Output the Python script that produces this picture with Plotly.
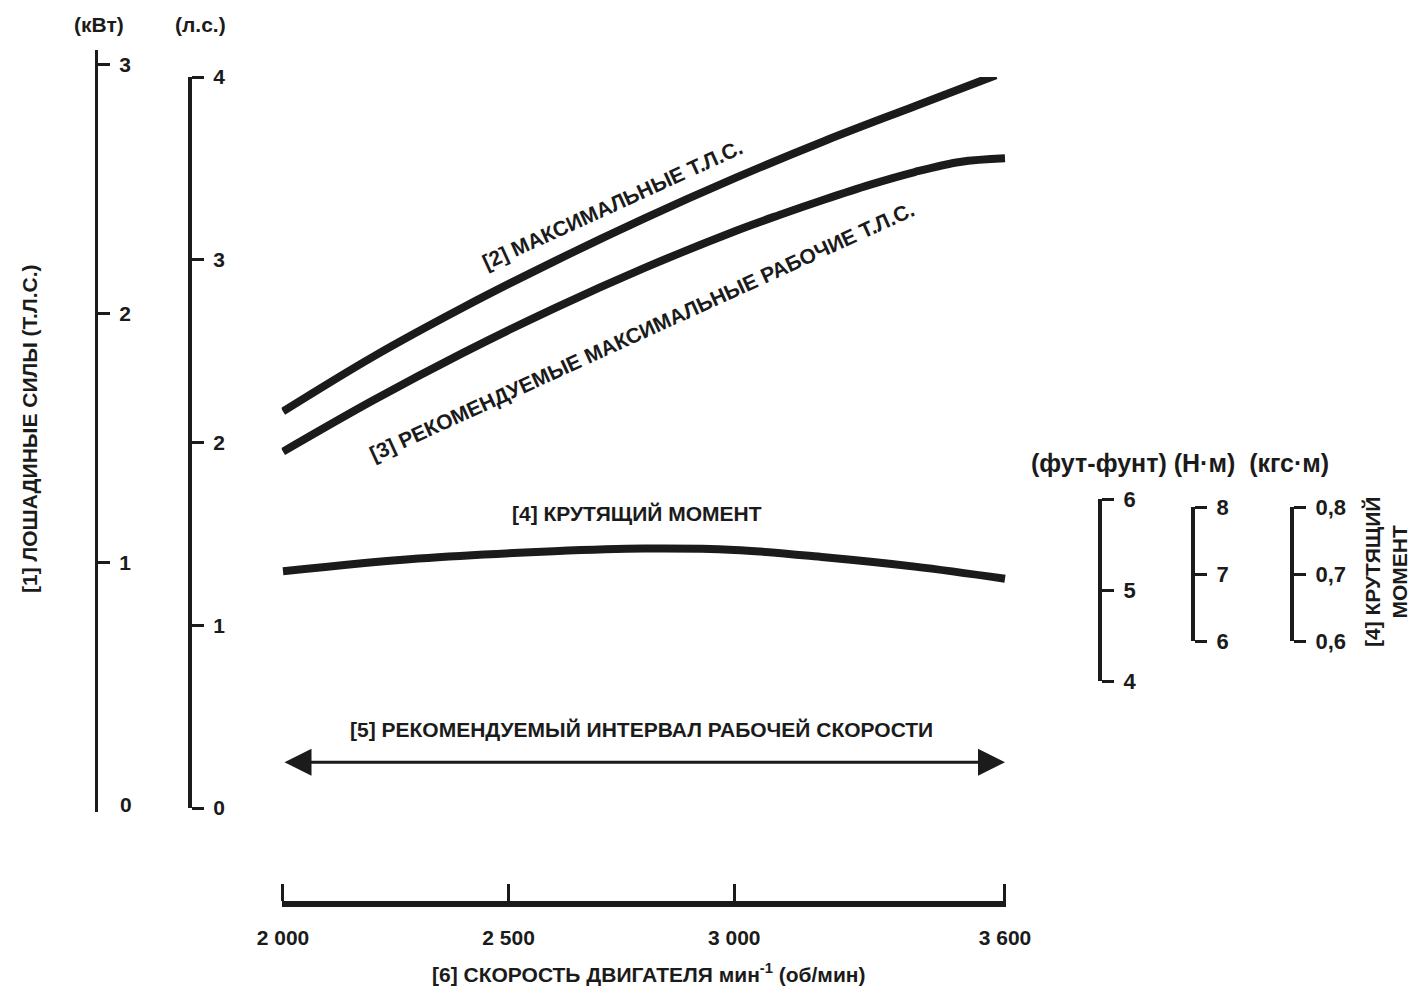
import plotly.graph_objects as go

# ---------------- data ----------------
rpm_max = [2000, 2200, 2400, 2600, 2800, 3000, 3200, 3400, 3580]
hp_max = [2.17, 2.47, 2.74, 2.99, 3.225, 3.445, 3.65, 3.84, 4.01]

rpm_rec = [2000, 2200, 2400, 2600, 2800, 3000, 3100, 3200, 3300, 3400, 3500, 3600]
hp_rec = [1.95, 2.231, 2.492, 2.733, 2.954, 3.155, 3.245, 3.33, 3.41, 3.48, 3.535, 3.555]

rpm_torque = [2000, 2300, 2600, 2800, 3000, 3200, 3400, 3600]
torque_nm = [7.04, 7.23, 7.34, 7.38, 7.36, 7.25, 7.11, 6.93]

arrow_rpm = [2000, 3600]
arrow_hp = 0.25

x_tickvals = [2000, 2500, 3000, 3600]
x_ticktext = ["2 000", "2 500", "3 000", "3 600"]
hp_ticks = [0, 1, 2, 3, 4]
kw_ticks = [1, 2, 3]
kw_zero_label = "0"
ftlb_ticks = [4, 5, 6]
nm_ticks = [6, 7, 8]
kgf_ticks = [0.6, 0.7, 0.8]
kgf_ticktext = ["0,6", "0,7", "0,8"]

# ---------------- layout helpers ----------------
W, H = 1410, 987
FONT = "Arial, 'Liberation Sans', Helvetica, sans-serif"
INK = "#1b1b1b"


def px(xp):
    return xp / W


def py(yp):
    return 1 - yp / H


def yax(top, bottom, rng, pos, tickvals, ticktext=None, lw=3, ticklen=12, fs=21):
    d = dict(
        domain=[py(bottom), py(top)], range=rng, anchor="free", position=px(pos),
        side="right", ticks="outside", ticklen=ticklen, tickwidth=3, tickcolor=INK,
        showline=True, linewidth=lw, linecolor=INK, showgrid=False, zeroline=False,
        tickvals=tickvals, tickfont=dict(family=FONT, size=fs, color=INK, weight="bold"),
        ticklabelstandoff=5, fixedrange=True, automargin=False,
    )
    if ticktext is not None:
        d["ticktext"] = ticktext
    return d


fig = go.Figure()
line_style = dict(color=INK, width=8, shape="spline", smoothing=1.0)
fig.add_trace(go.Scatter(x=rpm_max, y=hp_max, mode="lines", line=line_style,
                         xaxis="x", yaxis="y", hoverinfo="skip"))
fig.add_trace(go.Scatter(x=rpm_rec, y=hp_rec, mode="lines", line=line_style,
                         xaxis="x", yaxis="y", hoverinfo="skip"))
fig.add_trace(go.Scatter(x=rpm_torque, y=torque_nm, mode="lines", line=line_style,
                         xaxis="x", yaxis="y4", hoverinfo="skip"))
for ax in ["y2", "y3", "y5"]:
    fig.add_trace(go.Scatter(x=[], y=[], xaxis="x", yaxis=ax, hoverinfo="skip"))

# x range padded a hair so the end ticks at 2 000 and 3 600 are kept
x_pad = 3
x_px_per_rpm = (1005 - 283) / (3600 - 2000)

fig.update_layout(
    width=W, height=H, autosize=False,
    margin=dict(l=0, r=0, t=0, b=0, autoexpand=False),
    paper_bgcolor="white", plot_bgcolor="rgba(0,0,0,0)",
    showlegend=False,
    xaxis=dict(
        domain=[px(283 - x_pad * x_px_per_rpm), px(1005 + x_pad * x_px_per_rpm)],
        range=[2000 - x_pad, 3600 + x_pad], anchor="free", position=py(904),
        ticks="inside", ticklen=17, tickwidth=3, tickcolor=INK,
        showline=True, linewidth=6, linecolor=INK, showgrid=False, zeroline=False,
        tickvals=x_tickvals, ticktext=x_ticktext,
        tickfont=dict(family=FONT, size=21, color=INK, weight="bold"),
        ticklabelstandoff=13, fixedrange=True, automargin=False,
    ),
    yaxis=yax(77, 808, [0, 4], 190, hp_ticks, lw=4),
    yaxis2=yax(50, 812, [0, 3.06], 96, kw_ticks, lw=3),
    yaxis3=yax(499, 681, [4, 6], 1100, ftlb_ticks, lw=4, fs=22),
    yaxis4=yax(507, 641, [6, 8], 1193, nm_ticks, lw=4, fs=22),
    yaxis5=yax(507, 641, [0.6, 0.8], 1292, kgf_ticks, kgf_ticktext, lw=4, fs=22),
)

ann = []


def paper_text(text, x, y, angle=0, size=21):
    ann.append(dict(text=text, x=px(x), y=py(y), xref="paper", yref="paper",
                    showarrow=False, textangle=angle, xanchor="center", yanchor="middle",
                    font=dict(family=FONT, size=size, color=INK, weight="bold")))


def data_text(text, x, y, angle=0, size=21):
    ann.append(dict(text=text, x=x, y=y, xref="x", yref="y",
                    showarrow=False, textangle=angle, xanchor="center", yanchor="middle",
                    font=dict(family=FONT, size=size, color=INK, weight="bold")))


paper_text("(кВт)", 99, 25)
paper_text("(л.с.)", 200, 25)
# kW zero label (the kW scale has no tick mark at 0)
ann.append(dict(text=kw_zero_label, x=px(118), y=0.03, xref="paper", yref="y2",
                showarrow=False, xanchor="left", yanchor="middle",
                font=dict(family=FONT, size=21, color=INK, weight="bold")))
paper_text("[1] ЛОШАДИНЫЕ СИЛЫ (Т.Л.С.)", 29, 429, angle=-90)
data_text("[2] МАКСИМАЛЬНЫЕ Т.Л.С.", 2730, 3.30, angle=-24.5)
data_text("[3] РЕКОМЕНДУЕМЫЕ МАКСИМАЛЬНЫЕ РАБОЧИЕ Т.Л.С.", 2795, 2.61, angle=-24.5)
data_text("[4] КРУТЯЩИЙ МОМЕНТ", 2785, 1.61)
data_text("[5] РЕКОМЕНДУЕМЫЙ ИНТЕРВАЛ РАБОЧЕЙ СКОРОСТИ", 2795, 0.43)
paper_text("(фут-фунт) (Н·м)  (кгс·м)", 1180, 463, size=25)
paper_text("[4] КРУТЯЩИЙ<br>МОМЕНТ", 1386, 572, angle=-90)
paper_text("[6] СКОРОСТЬ ДВИГАТЕЛЯ мин<sup>-1</sup> (об/мин)", 648, 973)

# double-headed arrow for the recommended speed interval
ann.append(dict(text="", x=arrow_rpm[1], y=arrow_hp, ax=arrow_rpm[0], ay=arrow_hp,
                xref="x", yref="y", axref="x", ayref="y", showarrow=True,
                arrowhead=2, startarrowhead=2, arrowside="end+start",
                arrowsize=1.8, startarrowsize=1.8, arrowwidth=3, arrowcolor=INK,
                standoff=0, startstandoff=0))

fig.update_layout(annotations=ann)
fig.write_html(
    "out.html",
    config={"displayModeBar": False, "staticPlot": False},
    post_script="document.body.style.margin='0';document.body.style.overflow='hidden';",
)
